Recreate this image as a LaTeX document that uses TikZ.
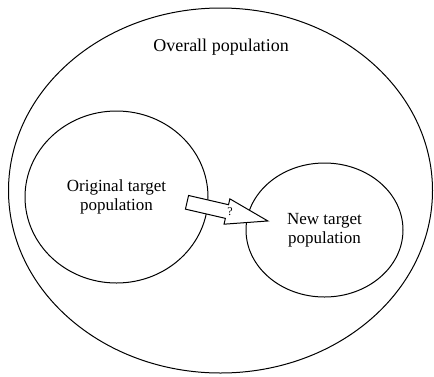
\documentclass[tikz,border=0pt]{standalone}
\usepackage{fontspec}
\setmainfont{Liberation Serif}
\newfontfamily\popfont{Liberation Serif}
\usetikzlibrary{shapes.geometric}

\tikzset{
	popu/.style={ellipse, draw, inner sep=0pt, align=center, font=\popfont\fontsize{17}{19}\selectfont},
	ques/.style={font=\popfont\fontsize{12}{14}\selectfont, inner sep=0pt}
}

\begin{document}
\begin{tikzpicture}[x=1pt, y=-1pt, line width=1pt]
			%%Location
			\useasboundingbox (0,0) rectangle (434,376);
			%%Populations
			\node[popu, minimum width=424pt, minimum height=365pt] (overall) at (220.5,190.5) {};
			\node[popu, minimum width=183pt, minimum height=172pt] (orig) at (116.5,197) {Original target\\population};
			\node[popu, minimum width=157pt, minimum height=134pt] (new) at (324.5,230) {New target\\population};
			
			%%Label
			\node[font=\popfont\fontsize{18}{20}\selectfont] (overalltxt) at (221,47) {Overall population};
			
			%%Shift
			\coordinate (tail) at (187,202.3);
			\draw[fill=white, shift={(tail)}, rotate=-13]
				(0,-7)--(41,-7)--(41,-13)--(83,0)--(41,13)--(41,7)--(0,7)--cycle;
			\node[ques] (shift) at (230,212) {?};
\end{tikzpicture}
\end{document}
